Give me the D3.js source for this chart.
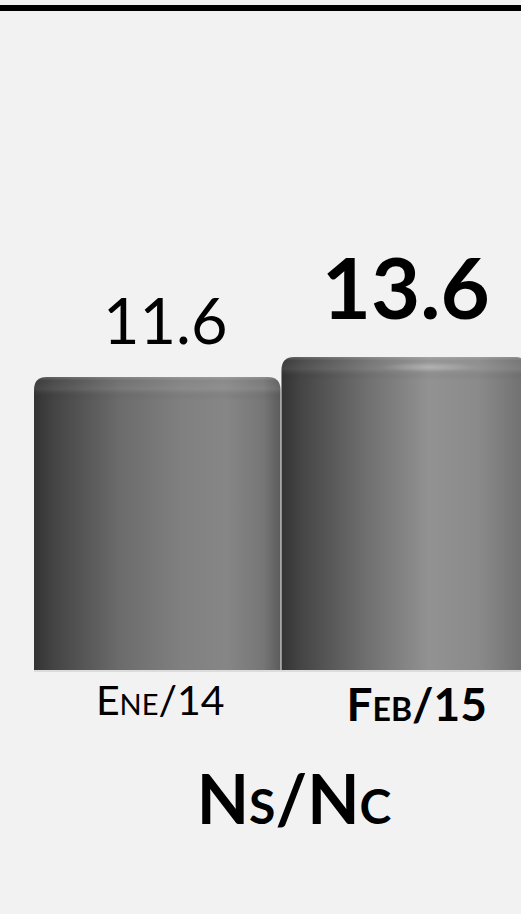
<!DOCTYPE html>
<html>
<head>
<meta charset="utf-8">
<script src="https://cdn.jsdelivr.net/npm/d3@7/dist/d3.min.js"></script>
<style>
  html, body { margin: 0; padding: 0; background: #f2f2f2; }
  svg { display: block; }
  text { font-family: Lato, "Open Sans", sans-serif; fill: #000; }
</style>
</head>
<body>
<svg id="chart" width="521" height="914"></svg>
<script>
// Ns/Nc ratio by period
const categories = ["Ene/14", "Feb/15"];
const values = [11.6, 13.6];
const highlight = [false, true];
const valueLabels = ["11.6", "13.6"];
const title = "Ns/Nc";

const W = 521, H = 914;
const svg = d3.select("#chart");

svg.append("rect").attr("width", W).attr("height", H).attr("fill", "#f2f2f2");

// heavy rule along the top
svg.append("line")
  .attr("x1", 0).attr("x2", W).attr("y1", 8).attr("y2", 8)
  .attr("stroke", "#000").attr("stroke-width", 6);

const x = d3.scaleBand().domain(categories).range([34, 528]).paddingInner(0.004);
// value axis: the bars stand on a truncated baseline
const y = d3.scaleLinear().domain([-17.6, 13.6]).range([670, 357]);

const defs = svg.append("defs");

// horizontal shading that gives each bar its cylinder look
const cyl = [
  [{o: 0, c: "#333"}, {o: 0.08, c: "#444"}, {o: 0.35, c: "#6c6c6c"}, {o: 0.6, c: "#808080"}, {o: 0.78, c: "#868686"}, {o: 0.93, c: "#767676"}, {o: 1, c: "#5c5c5c"}],
  [{o: 0, c: "#333"}, {o: 0.08, c: "#454545"}, {o: 0.35, c: "#707070"}, {o: 0.6, c: "#929292"}, {o: 0.8, c: "#8a8a8a"}, {o: 1, c: "#6e6e6e"}]
];
cyl.forEach((stops, i) => {
  const g = defs.append("linearGradient").attr("id", "cyl" + i)
    .attr("x1", 0).attr("x2", 1).attr("y1", 0).attr("y2", 0);
  stops.forEach(s => g.append("stop").attr("offset", s.o).attr("stop-color", s.c));
});

// soft rim shading at the rounded top of each bar
const rim = defs.append("linearGradient").attr("id", "rim")
  .attr("x1", 0).attr("x2", 0).attr("y1", 0).attr("y2", 1);
[[0, "#fff", 0.18], [0.15, "#fff", 0.04], [0.5, "#fff", 0.08], [0.8, "#000", 0.03], [1, "#000", 0]]
  .forEach(([o, c, a]) => rim.append("stop").attr("offset", o).attr("stop-color", c).attr("stop-opacity", a));

// light glint on the rim of the highlighted bar
const glint = defs.append("radialGradient").attr("id", "glint");
glint.append("stop").attr("offset", 0).attr("stop-color", "#fff").attr("stop-opacity", 0.24);
glint.append("stop").attr("offset", 1).attr("stop-color", "#fff").attr("stop-opacity", 0);

const r = 13;
function barPath(x0, x1, top, base) {
  return `M${x0},${base} L${x0},${top + r} Q${x0},${top} ${x0 + r},${top} L${x1 - r},${top} Q${x1},${top} ${x1},${top + r} L${x1},${base} Z`;
}

const bars = svg.append("g").selectAll("g").data(categories).join("g");

bars.append("path")
  .attr("d", (d, i) => barPath(x(d), x(d) + x.bandwidth(), y(values[i]), y.range()[0]))
  .attr("fill", (d, i) => `url(#cyl${i})`);

bars.append("path")
  .attr("d", (d, i) => {
    const t = y(values[i]);
    return barPath(x(d), x(d) + x.bandwidth(), t, t + 24);
  })
  .attr("fill", "url(#rim)");

bars.filter((d, i) => highlight[i]).append("ellipse")
  .attr("cx", d => x(d) + x.bandwidth() * 0.6)
  .attr("cy", d => y(values[categories.indexOf(d)]) + 10)
  .attr("rx", x.bandwidth() * 0.2)
  .attr("ry", 5)
  .attr("fill", "url(#glint)");

// faint floor line under the bars
svg.append("line")
  .attr("x1", x.range()[0]).attr("x2", W)
  .attr("y1", y.range()[0] + 1).attr("y2", y.range()[0] + 1)
  .attr("stroke", "#d4d4d4").attr("stroke-width", 1.5);

// value labels
svg.append("g").selectAll("text").data(categories).join("text")
  .attr("x", (d, i) => x(d) + x.bandwidth() / 2 + (highlight[i] ? 1 : 8))
  .attr("y", (d, i) => y(values[i]) - (highlight[i] ? 38 : 33))
  .attr("text-anchor", "middle")
  .attr("font-size", (d, i) => highlight[i] ? 85 : 63)
  .attr("font-weight", (d, i) => highlight[i] ? 700 : 400)
  .text((d, i) => valueLabels[i]);

// category labels
svg.append("g").selectAll("text").data(categories).join("text")
  .attr("x", (d, i) => x(d) + x.bandwidth() / 2 + (highlight[i] ? 12 : 3))
  .attr("y", (d, i) => highlight[i] ? 721 : 715)
  .attr("text-anchor", "middle")
  .attr("font-size", (d, i) => highlight[i] ? 46 : 41)
  .attr("font-weight", (d, i) => highlight[i] ? 700 : 400)
  .style("font-variant", "small-caps")
  .text(d => d);

// chart title
svg.append("text")
  .attr("x", 294).attr("y", 824)
  .attr("text-anchor", "middle")
  .attr("font-size", 68).attr("font-weight", 700)
  .style("font-variant", "small-caps")
  .text(title);
</script>
</body>
</html>
